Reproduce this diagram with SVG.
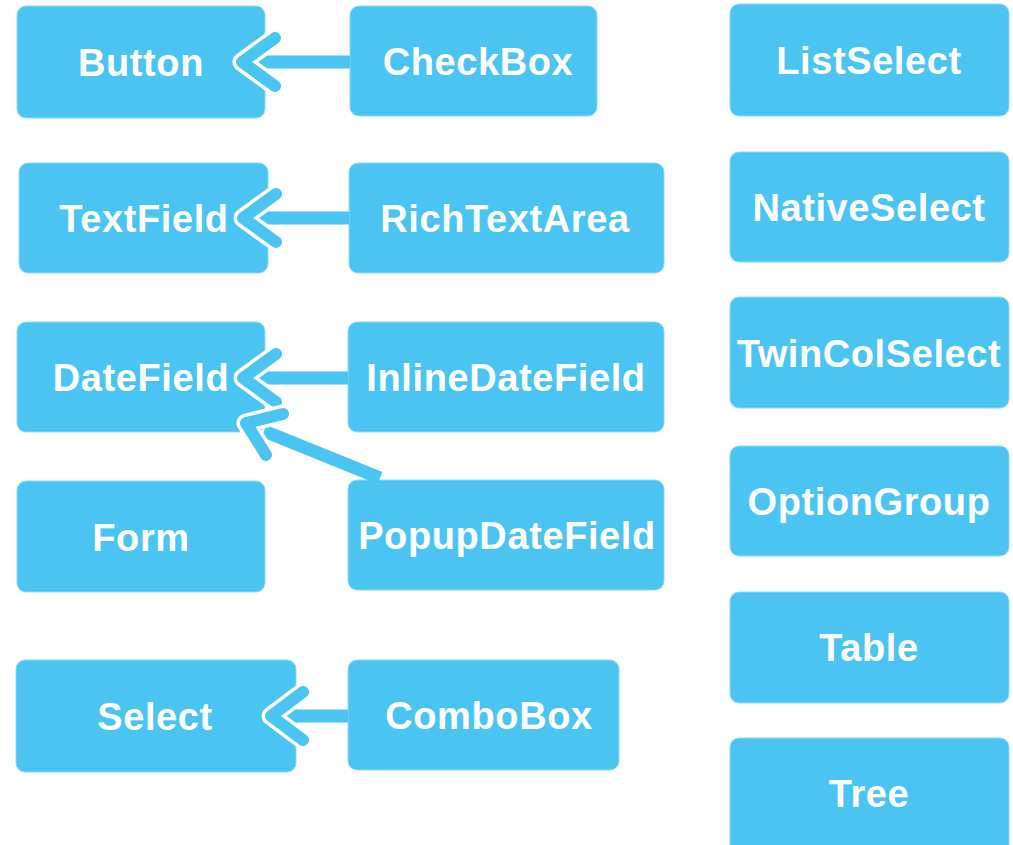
<svg xmlns="http://www.w3.org/2000/svg" width="1013" height="845" viewBox="0 0 1013 845">
<style>
.box{fill:#4BC4F1;stroke:#8FD9F6;stroke-width:1}
.lbl{font-family:"Liberation Sans",Arial,sans-serif;font-weight:bold;font-size:38px;letter-spacing:0.6px;fill:#FFFFFF;text-anchor:middle}
.ln{stroke:#4BC4F1;stroke-width:13;fill:none}
.hb{stroke:#FFFFFF;stroke-width:19;fill:none;stroke-linecap:round;stroke-linejoin:round}
.hd{stroke:#4BC4F1;stroke-width:12;fill:none;stroke-linecap:round;stroke-linejoin:round}
</style>
<rect width="1013" height="845" fill="#FFFFFF"/>
<g id="nodes">
<g id="Button"><rect class="box" x="17" y="6" width="248" height="112" rx="9"/><text class="lbl" x="141" y="75.5">Button</text></g>
<g id="CheckBox"><rect class="box" x="350" y="6" width="247" height="110" rx="9"/><text class="lbl" x="478" y="74.5">CheckBox</text></g>
<g id="TextField"><rect class="box" x="19" y="163" width="249" height="110" rx="9"/><text class="lbl" x="144" y="231.5">TextField</text></g>
<g id="RichTextArea"><rect class="box" x="349" y="163" width="315" height="110" rx="9"/><text class="lbl" x="505" y="231.5">RichTextArea</text></g>
<g id="DateField"><rect class="box" x="17" y="322" width="248" height="110" rx="9"/><text class="lbl" x="141" y="390.5">DateField</text></g>
<g id="InlineDateField"><rect class="box" x="348" y="322" width="316" height="110" rx="9"/><text class="lbl" x="506" y="390.5">InlineDateField</text></g>
<g id="Form"><rect class="box" x="17" y="481" width="248" height="111" rx="9"/><text class="lbl" x="141" y="550.5">Form</text></g>
<g id="PopupDateField"><rect class="box" x="348" y="480" width="316" height="110" rx="9"/><text class="lbl" x="507" y="548.5">PopupDateField</text></g>
<g id="Select"><rect class="box" x="16" y="660" width="280" height="112" rx="9"/><text class="lbl" x="155" y="729.5">Select</text></g>
<g id="ComboBox"><rect class="box" x="348" y="660" width="271" height="110" rx="9"/><text class="lbl" x="489" y="728.5">ComboBox</text></g>
<g id="ListSelect"><rect class="box" x="730" y="4" width="279" height="112" rx="9"/><text class="lbl" x="869" y="73.5">ListSelect</text></g>
<g id="NativeSelect"><rect class="box" x="730" y="152" width="279" height="110" rx="9"/><text class="lbl" x="869" y="220.5">NativeSelect</text></g>
<g id="TwinColSelect"><rect class="box" x="730" y="297" width="279" height="111" rx="9"/><text class="lbl" x="869" y="366.5">TwinColSelect</text></g>
<g id="OptionGroup"><rect class="box" x="730" y="446" width="279" height="110" rx="9"/><text class="lbl" x="869" y="514.5">OptionGroup</text></g>
<g id="Table"><rect class="box" x="730" y="592" width="279" height="111" rx="9"/><text class="lbl" x="869" y="660.5">Table</text></g>
<g id="Tree"><rect class="box" x="730" y="738" width="279" height="120" rx="9"/><text class="lbl" x="869" y="806.5">Tree</text></g>
</g>
<g id="connectors">
<line class="ln" x1="262" y1="62" x2="350" y2="62"/>
<path class="hb" d="M275,38 L242,62 L275,86"/><path class="hd" d="M275,38 L242,62 L275,86"/>
<line class="ln" x1="262" y1="218" x2="349" y2="218"/>
<path class="hb" d="M276,194 L243,218 L276,242"/><path class="hd" d="M276,194 L243,218 L276,242"/>
<line class="ln" x1="262" y1="378" x2="348" y2="378"/>
<path class="hb" d="M276,354 L243,378 L276,402"/><path class="hd" d="M276,354 L243,378 L276,402"/>
<line class="ln" x1="264" y1="431" x2="380" y2="478"/>
<path class="hb" d="M283,414 L246,423 L266,455"/><path class="hd" d="M283,414 L246,423 L266,455"/>
<line class="ln" x1="290" y1="716" x2="348" y2="716"/>
<path class="hb" d="M303,692 L271,716 L303,740"/><path class="hd" d="M303,692 L271,716 L303,740"/>
</g>
</svg>
